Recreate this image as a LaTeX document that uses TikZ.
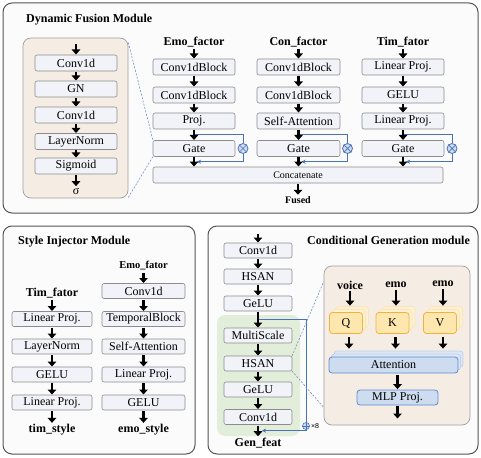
\documentclass[tikz,border=0pt]{standalone}
\usepackage{fontspec}
\setmainfont{Liberation Serif}
\newfontfamily\sansx{Liberation Sans}
\usetikzlibrary{arrows.meta,calc}

\definecolor{panelfill}{HTML}{FBFBFB}
\definecolor{panelline}{HTML}{555555}
\definecolor{boxfill}{HTML}{F1F3F8}
\definecolor{boxline}{HTML}{8C8C8C}
\definecolor{insetfill}{HTML}{F5EDE4}
\definecolor{insetline}{HTML}{A0A0A0}
\definecolor{greenfill}{HTML}{E3EEDA}
\definecolor{qkvfill}{HTML}{FDE7AE}
\definecolor{qkvline}{HTML}{F0B340}
\definecolor{qkvback}{HTML}{FDF1D2}
\definecolor{attfill}{HTML}{CEDCEF}
\definecolor{attback}{HTML}{DDE7F5}
\definecolor{attline}{HTML}{5C8BD0}
\definecolor{loopblue}{HTML}{4A72B8}

\begin{document}
\begin{tikzpicture}[x=1pt,y=-1pt,
	panel/.style={draw=panelline,fill=panelfill,line width=1pt,rounded corners=9pt},
	inset/.style={draw=insetline,fill=insetfill,line width=0.7pt,rounded corners=8pt,inner sep=0pt},
	blk/.style={draw=boxline,fill=boxfill,rounded corners=2pt,line width=0.6pt,inner sep=0pt,outer sep=0pt,minimum width=82pt,minimum height=16pt,font=\fontsize{12}{14}\selectfont},
	ttl/.style={font=\fontsize{12}{14}\selectfont\bfseries,inner sep=1pt},
	lbl/.style={font=\fontsize{12}{14}\selectfont\bfseries,inner sep=1pt},
	fat/.style={line width=2.8pt,-{Triangle[width=8.5pt,length=5pt]},shorten <=1pt,shorten >=0.5pt},
	loopln/.style={draw=loopblue,line width=0.9pt},
	mul/.style={circle,draw=loopblue,fill=attfill,line width=0.8pt,minimum size=10pt,inner sep=0pt},
	dsh/.style={draw=loopblue!80,line width=0.6pt,dash pattern=on 2pt off 1.5pt},
	qkv/.style={draw=qkvline,fill=qkvfill,line width=0.8pt,rounded corners=3pt,minimum width=33pt,minimum height=21pt,inner sep=0pt,font=\fontsize{12}{14}\selectfont},
	qkvbk/.style={qkv,draw=qkvline!35,fill=qkvback},
	att/.style={draw=attline,fill=attfill,line width=0.8pt,rounded corners=3pt,minimum width=129pt,minimum height=16pt,inner sep=0pt,font=\fontsize{12}{14}\selectfont},
	attbk/.style={att,draw=attline!40,fill=attback}]
		\useasboundingbox (0,0) rectangle (481,457);
		%Рамки модулей
		\draw[panel] (3,3) rectangle (478,213);
		\draw[panel] (3,226) rectangle (195,454);
		\draw[panel] (208,226) rectangle (478,454);
		
		%Dynamic Fusion Module
		\node[ttl,anchor=west] (dfmtitle) at (25,20) {Dynamic Fusion Module};
		\node[inset,minimum width=105pt,minimum height=160pt] (fusinset) at (75.5,118) {};
		\coordinate (insin) at (76,43);
		\node[blk] (insconva) at (76,63) {Conv1d};
		\node[blk] (insgn) at (76,89) {GN};
		\node[blk] (insconvb) at (76,115) {Conv1d};
		\node[blk] (insln) at (76,141.5) {LayerNorm};
		\node[blk] (inssig) at (76,166) {Sigmoid};
		\node[lbl,font=\fontsize{12}{14}\selectfont] (inssigma) at (76,191) {σ};
		
		%Emo / Con / Tim
		\node[lbl] (emottl) at (194,42) {Emo\_factor};
		\node[blk] (emoblka) at (194,67) {Conv1dBlock};
		\node[blk] (emoblkb) at (194,95) {Conv1dBlock};
		\node[blk] (emoproj) at (194,121) {Proj.};
		\node[blk] (emogate) at (194,148.5) {Gate};
		\node[lbl] (conttl) at (298.5,42) {Con\_factor};
		\node[blk,minimum width=83pt] (conblka) at (298.5,67) {Conv1dBlock};
		\node[blk,minimum width=83pt] (conblkb) at (298.5,95) {Conv1dBlock};
		\node[blk,minimum width=83pt] (conatt) at (298.5,121) {Self-Attention};
		\node[blk,minimum width=83pt] (congate) at (298.5,148.5) {Gate};
		\node[lbl] (timttl) at (403,42) {Tim\_fator};
		\node[blk] (timlina) at (403,67) {Linear Proj.};
		\node[blk] (timgelu) at (403,95) {GELU};
		\node[blk] (timlinb) at (403,121) {Linear Proj.};
		\node[blk] (timgate) at (403,148.5) {Gate};
		\node[blk,minimum width=290pt,font=\fontsize{10}{12}\selectfont] (concat) at (298,175) {Concatenate};
		\node[lbl,font=\fontsize{10}{12}\selectfont\bfseries] (fused) at (298,200) {Fused};
		
		%Петли Gate
		\node[mul] (emomul) at ($(emogate.east)+(8,0)$) {};
		\node[mul] (conmul) at ($(congate.east)+(7.5,0)$) {};
		\node[mul] (timmul) at ($(timgate.east)+(8,0)$) {};
		\coordinate (emoin) at ($(emoproj.south)!.5!(emogate.north)$);
		\coordinate (emoout) at ($(emogate.south)!.5!(concat.north -| emogate)+(3,0)$);
		\coordinate (conin) at ($(conatt.south)!.5!(congate.north)$);
		\coordinate (conout) at ($(congate.south)!.5!(concat.north -| congate)+(3,0)$);
		\coordinate (timin) at ($(timlinb.south)!.5!(timgate.north)$);
		\coordinate (timout) at ($(timgate.south)!.5!(concat.north -| timgate)+(3,0)$);
		\draw[loopln] (emoin) -| (emomul);
		\draw[loopln,-{Stealth[length=4pt,width=4pt]}] (emomul) |- (emoout);
		\draw[loopln] (conin) -| (conmul);
		\draw[loopln,-{Stealth[length=4pt,width=4pt]}] (conmul) |- (conout);
		\draw[loopln] (timin) -| (timmul);
		\draw[loopln,-{Stealth[length=4pt,width=4pt]}] (timmul) |- (timout);
		\draw[loopblue,line width=0.7pt] (emomul.north west) -- (emomul.south east) (emomul.north east) -- (emomul.south west);
		\draw[loopblue,line width=0.7pt] (conmul.north west) -- (conmul.south east) (conmul.north east) -- (conmul.south west);
		\draw[loopblue,line width=0.7pt] (timmul.north west) -- (timmul.south east) (timmul.north east) -- (timmul.south west);
		
		%Пунктир к Gate
		\draw[dsh] ([yshift=-5pt]fusinset.north east) -- (emogate.north west);
		\draw[dsh] ([yshift=1pt]fusinset.south east) -- (emogate.south west);
		
		%Стрелки (верх)
		\draw[fat] (insin) -- (insconva);
		\draw[fat] (insconva) -- (insgn);
		\draw[fat] (insgn) -- (insconvb);
		\draw[fat] (insconvb) -- (insln);
		\draw[fat] (insln) -- (inssig);
		\draw[fat] (inssig) -- (inssigma);
		\draw[fat] (emottl) -- (emoblka);
		\draw[fat] (emoblka) -- (emoblkb);
		\draw[fat] (emoblkb) -- (emoproj);
		\draw[fat] (emoproj) -- (emogate);
		\draw[fat] (emogate) -- (emogate |- concat.north);
		\draw[fat] (conttl) -- (conblka);
		\draw[fat] (conblka) -- (conblkb);
		\draw[fat] (conblkb) -- (conatt);
		\draw[fat] (conatt) -- (congate);
		\draw[fat] (congate) -- (congate |- concat.north);
		\draw[fat] (timttl) -- (timlina);
		\draw[fat] (timlina) -- (timgelu);
		\draw[fat] (timgelu) -- (timlinb);
		\draw[fat] (timlinb) -- (timgate);
		\draw[fat] (timgate) -- (timgate |- concat.north);
		\draw[fat] (concat) -- (fused);
		
		%Style Injector Module
		\node[ttl,anchor=west] (sititle) at (17,242) {Style Injector Module};
		\node[lbl] (sitimttl) at (52,293) {Tim\_fator};
		\node[blk,minimum width=80pt,minimum height=15pt] (sitima) at (52,319) {Linear Proj.};
		\node[blk,minimum width=80pt,minimum height=15pt] (sitimb) at (52,346.5) {LayerNorm};
		\node[blk,minimum width=80pt,minimum height=15pt] (sitimc) at (52,374.5) {GELU};
		\node[blk,minimum width=80pt,minimum height=15pt] (sitimd) at (52,402.5) {Linear Proj.};
		\node[lbl] (sitimout) at (52,430) {tim\_style};
		\node[lbl,font=\fontsize{10.5}{12}\selectfont\bfseries] (siemottl) at (143.5,266) {Emo\_fator};
		\node[blk,minimum width=83pt,minimum height=15pt] (siemoa) at (143.5,291) {Conv1d};
		\node[blk,minimum width=83pt,minimum height=15pt] (siemob) at (143.5,319) {TemporalBlock};
		\node[blk,minimum width=83pt,minimum height=15pt] (siemoc) at (143.5,346.5) {Self-Attention};
		\node[blk,minimum width=83pt,minimum height=15pt] (siemod) at (143.5,374.5) {Linear Proj.};
		\node[blk,minimum width=83pt,minimum height=15pt] (siemoe) at (143.5,402.5) {GELU};
		\node[lbl] (siemoout) at (143.5,430) {emo\_style};
		\draw[fat] (sitimttl) -- (sitima);
		\draw[fat] (sitima) -- (sitimb);
		\draw[fat] (sitimb) -- (sitimc);
		\draw[fat] (sitimc) -- (sitimd);
		\draw[fat] (sitimd) -- (sitimout);
		\draw[fat] (siemottl) -- (siemoa);
		\draw[fat] (siemoa) -- (siemob);
		\draw[fat] (siemob) -- (siemoc);
		\draw[fat] (siemoc) -- (siemod);
		\draw[fat] (siemod) -- (siemoe);
		\draw[fat] (siemoe) -- (siemoout);
		
		%Conditional Generation module
		\fill[greenfill,rounded corners=8pt] (217,315) rectangle (300,436);
		\node[inset,minimum width=146pt,minimum height=159pt] (cgbox) at (397,345.5) {};
		\node[ttl,anchor=west] (cgtitle) at (306,240) {Conditional Generation module};
		\coordinate (cgin) at (258,233);
		\node[blk,minimum width=68pt,minimum height=15pt] (cgconva) at (258,250.5) {Conv1d};
		\node[blk,minimum width=68pt,minimum height=15pt] (cghsana) at (258,276.5) {HSAN};
		\node[blk,minimum width=68pt,minimum height=15pt] (cggelua) at (258,303.5) {GeLU};
		\node[blk,minimum width=68pt,minimum height=15pt] (cgmulti) at (258,335.5) {MultiScale};
		\node[blk,minimum width=68pt,minimum height=15pt] (cghsanb) at (258,363.5) {HSAN};
		\node[blk,minimum width=68pt,minimum height=15pt] (cggelub) at (258,389.5) {GeLU};
		\node[blk,minimum width=68pt,minimum height=15pt] (cgconvb) at (258,417) {Conv1d};
		\node[lbl] (genfeat) at (258,443) {Gen\_feat};
		
		%Петля x8
		\node[circle,draw=loopblue,fill=attfill,line width=0.6pt,minimum size=7pt,inner sep=0pt] (cgplus) at (306,426) {};
		\node[anchor=west,inner sep=1pt,font=\sansx\fontsize{7}{8}\selectfont] (cgtimes) at (cgplus.east) {×8};
		\coordinate (cgloopin) at ($(cggelua.south)!.5!(cgmulti.north)$);
		\coordinate (cgloopout) at ($(cgconvb.south)!.5!(genfeat.north)+(4,0)$);
		\draw[loopln] (cgloopin) -| (cgplus);
		\draw[loopln,-{Stealth[length=4pt,width=4pt]}] (cgplus) |- (cgloopout);
		\draw[loopblue,line width=0.6pt] (cgplus.north) -- (cgplus.south) (cgplus.west) -- (cgplus.east);
		\draw[dsh] (cghsanb.north east) -- ([yshift=-16pt]cgbox.north west);
		\draw[dsh] (cghsanb.south east) -- ([yshift=18pt]cgbox.south west);
		
		\draw[fat] (cgin) -- (cgconva);
		\draw[fat] (cgconva) -- (cghsana);
		\draw[fat] (cghsana) -- (cggelua);
		\draw[fat] (cggelua) -- (cgmulti);
		\draw[fat] (cgmulti) -- (cghsanb);
		\draw[fat] (cghsanb) -- (cggelub);
		\draw[fat] (cggelub) -- (cgconvb);
		\draw[fat] (cgconvb) -- (genfeat);
		
		%Q K V
		\node[lbl] (voicelbl) at (350,285) {voice};
		\node[lbl] (emoklbl) at (396,285) {emo};
		\node[lbl] (emovlbl) at (443,284) {emo};
		\node[qkvbk] (qbb) at (352,317) {};
		\node[qkvbk] (qba) at (349,320) {};
		\node[qkv] (qfront) at (346,323) {Q};
		\node[qkvbk] (kbb) at (398.5,317) {};
		\node[qkvbk] (kba) at (395.5,320) {};
		\node[qkv] (kfront) at (392.5,323) {K};
		\node[qkvbk] (vbb) at (446,317) {};
		\node[qkvbk] (vba) at (443,320) {};
		\node[qkv] (vfront) at (440,323) {V};
		
		%Attention, MLP
		\node[attbk] (attbb) at (398.5,359) {};
		\node[attbk] (attba) at (396,362) {};
		\node[att] (attfront) at (393.5,365) {Attention};
		\node[att,minimum width=81pt,minimum height=15pt] (mlp) at (397.5,397.5) {MLP Proj.};
		\coordinate (mlpout) at (397.5,419);
		
		\draw[fat] (voicelbl) -- (voicelbl |- qbb.north);
		\draw[fat] (emoklbl) -- (emoklbl |- kbb.north);
		\draw[fat] (emovlbl) -- (emovlbl |- vbb.north);
		\draw[fat,shorten <=6pt,shorten >=2pt] (qba.south) -- (qba.south |- attbb.north);
		\draw[fat,shorten <=6pt,shorten >=2pt] (kba.south) -- (kba.south |- attbb.north);
		\draw[fat,shorten <=6pt,shorten >=2pt] (vba.south) -- (vba.south |- attbb.north);
		\draw[fat,shorten <=2pt] (attfront.south -| mlp) -- (mlp);
		\draw[fat] (mlp) -- (mlpout);
\end{tikzpicture}
\end{document}
